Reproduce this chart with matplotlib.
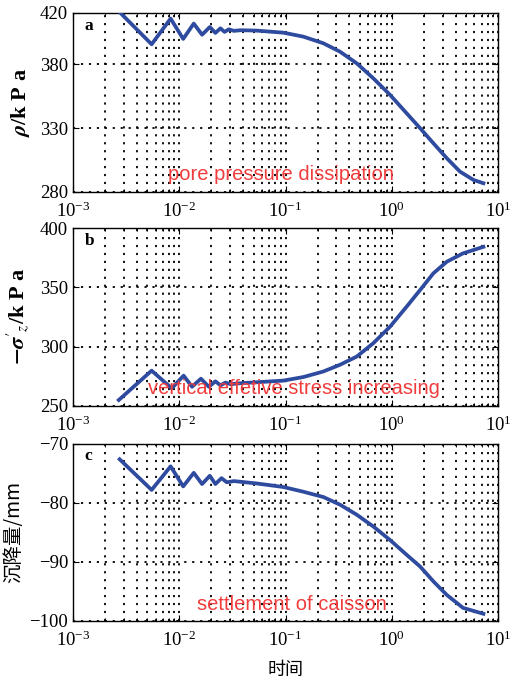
import numpy as np
import matplotlib
matplotlib.use("Agg")
import matplotlib.pyplot as plt
from matplotlib.ticker import LogLocator, NullFormatter, FixedLocator

plt.rcParams['mathtext.fontset'] = 'stix'
plt.rcParams['font.family'] = ['Liberation Serif', 'Noto Sans CJK SC', 'DejaVu Sans']

# time values (log axis) and the three curves
t_a = [2.8e-3, 5.5e-3, 8.3e-3, 1.09e-2, 1.37e-2, 1.64e-2, 1.94e-2, 2.19e-2, 2.44e-2, 2.67e-2,
       2.93e-2, 3.27e-2, 3.78e-2, 0.0536, 0.0953, 0.147, 0.227, 0.326, 0.468, 0.670,
       0.964, 1.38, 1.85, 2.46, 3.29, 4.38, 5.86, 7.28]
pore = [420, 395.5, 415.6, 399.7, 411.7, 403, 409, 404.4, 408, 405.2,
        407.2, 406, 406.5, 406.2, 404.6, 401.5, 396.3, 389.7, 380.6, 368.9,
        355.9, 341.5, 329.8, 318.1, 306.4, 295.9, 289.4, 286.8]

t_b = [2.7e-3, 5.5e-3, 8.5e-3, 1.1e-2, 1.32e-2, 1.6e-2, 1.9e-2, 2.19e-2, 2.44e-2, 2.72e-2,
       3.03e-2, 3.78e-2, 0.0536, 0.0953, 0.147, 0.227, 0.326, 0.468, 0.670,
       0.964, 1.38, 1.85, 2.46, 3.29, 4.68, 7.28]
stress = [254.8, 279.6, 264.7, 275.4, 266, 272.8, 266, 270.6, 267.2, 269.5,
          268.2, 269, 269.8, 271.2, 274.2, 278.9, 284.6, 291.5, 302.8,
          316.8, 333.7, 347.8, 361.8, 371.6, 378.7, 384.2]

t_c = [2.75e-3, 5.5e-3, 8.3e-3, 1.09e-2, 1.37e-2, 1.64e-2, 1.94e-2, 2.19e-2, 2.5e-2, 2.8e-2,
       3.27e-2, 0.0536, 0.0953, 0.147, 0.227, 0.326, 0.468, 0.670,
       0.964, 1.38, 1.85, 2.46, 3.29, 4.68, 7.28]
settle = [-72.6, -77.8, -73.8, -77.2, -74.9, -76.8, -75.4, -76.8, -75.8, -76.5,
          -76.3, -76.7, -77.3, -78.1, -79.0, -80.3, -82.0, -84.0,
          -86.3, -88.8, -90.8, -93.3, -95.6, -97.8, -98.8]

panels = [
    dict(t=t_a, y=pore, ylim=(280, 420), yticks=[280, 330, 380, 420], letter='a',
         ylabel=r'$\boldsymbol{\rho}$/k P a', note='pore pressure dissipation', nx=0.49),
    dict(t=t_b, y=stress, ylim=(250, 400), yticks=[250, 300, 350, 400], letter='b',
         ylabel=r"$\mathbf{-}\boldsymbol{\sigma}'_{z}$/k P a",
         note='vertical effetive stress increasing', nx=0.52),
    dict(t=t_c, y=settle, ylim=(-100, -70), yticks=[-100, -90, -80, -70], letter='c',
         ylabel='沉降量/mm', note='settlement of caisson', nx=0.515),
]

fig = plt.figure(figsize=(5.21, 6.83), dpi=100)
boxes = [(0.140, 0.719, 0.816, 0.262), (0.140, 0.406, 0.816, 0.260), (0.140, 0.091, 0.816, 0.259)]
grid_style = dict(color='black', linestyle=(0, (1.2, 3.2)), linewidth=1.3)

for box, p in zip(boxes, panels):
    ax = fig.add_axes(box)
    ax.plot(p['t'], p['y'], color='#2f4b9f', linewidth=2.7, zorder=3)
    ax.set_xscale('log')
    ax.set_xlim(1e-3, 10)
    ax.set_ylim(*p['ylim'])
    ax.yaxis.set_major_locator(FixedLocator(p['yticks']))
    ax.xaxis.set_major_locator(LogLocator(base=10, numticks=10))
    ax.xaxis.set_minor_locator(LogLocator(base=10, subs=np.arange(2, 10), numticks=20))
    ax.xaxis.set_minor_formatter(NullFormatter())
    ax.grid(True, which='major', **grid_style)
    ax.grid(True, which='minor', axis='x', **grid_style)
    ax.tick_params(which='both', direction='in', top=True, right=True, labelsize=13.5)
    ax.tick_params(which='major', length=4)
    ax.tick_params(which='minor', length=2.5)
    for s in ax.spines.values():
        s.set_linewidth(1.0)
    ax.text(0.028, 0.93, p['letter'], transform=ax.transAxes, fontsize=12.5,
            fontweight='bold', va='center', ha='left')
    ax.text(p['nx'], 0.095, p['note'], transform=ax.transAxes, fontsize=14.5,
            color='#f03c3c', family='Liberation Sans', ha='center', va='center', zorder=4)
    if p['letter'] == 'c':
        ax.set_ylabel(p['ylabel'], fontsize=14, family=['Noto Sans CJK SC', 'DejaVu Sans'],
                      labelpad=4)
        ax.set_xlabel('时间', fontsize=13, family=['Noto Sans CJK SC', 'DejaVu Sans'],
                      labelpad=8)
    else:
        ax.set_ylabel(p['ylabel'], fontsize=16, fontweight='bold', labelpad=6)
    ax.xaxis.set_tick_params(pad=7)

fig.savefig('out.png', dpi=100)
